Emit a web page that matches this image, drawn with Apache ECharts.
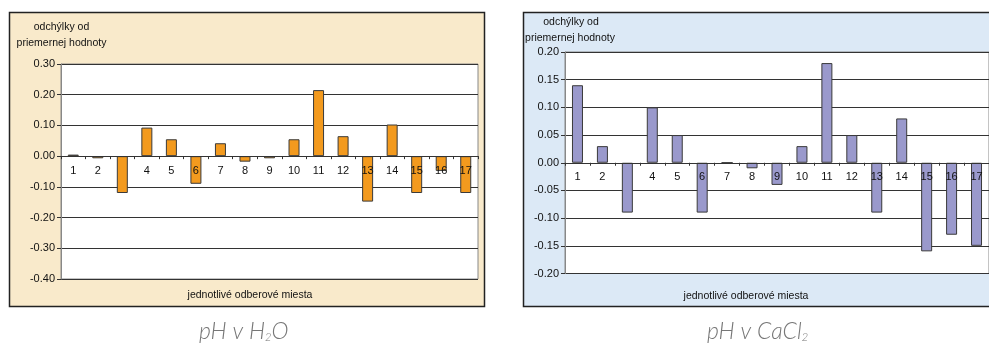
<!DOCTYPE html>
<html>
<head>
<meta charset="utf-8">
<script src="https://cdn.jsdelivr.net/npm/echarts@6/dist/echarts.min.js"></script>
<style>
html,body{margin:0;padding:0;background:#fff;}
#c{width:989px;height:347px;}
</style>
</head>
<body>
<div id="c"></div>
<script>
var categories = ['1','2','3','4','5','6','7','8','9','10','11','12','13','14','15','16','17'];
var categoryLabels = ['1','2','','4','5','6','7','8','9','10','11','12','13','14','15','16','17'];
var phH2O = [0.005,-0.007,-0.12,0.093,0.055,-0.09,0.042,-0.018,-0.007,0.055,0.215,0.065,-0.148,0.103,-0.12,-0.048,-0.12];
var phCaCl2 = [0.14,0.03,-0.09,0.10,0.05,-0.09,0,-0.01,-0.04,0.03,0.18,0.05,-0.09,0.08,-0.16,-0.13,-0.15];
var leftTicks = {min:-0.4, max:0.3, interval:0.1};
var rightTicks = {min:-0.2, max:0.2, interval:0.05};
var yTitleLine1 = 'odchýlky od';
var yTitleLine2 = 'priemernej hodnoty';
var xTitle = 'jednotlivé odberové miesta';

var chart = echarts.init(document.getElementById('c'));
var F = 'Liberation Sans, Arial, sans-serif';

function xAxisCfg(gi){
  return {
    type:'category', gridIndex:gi, data:categories, position:'bottom', offset:0,
    axisLine:{onZero:false, lineStyle:{color:'#333', width:1}},
    axisTick:{show:true, length:3, alignWithLabel:false, lineStyle:{color:'#333'}},
    axisLabel:{color:'#111', fontFamily:F, fontSize:11, margin:9,
      formatter:function(v,i){return categoryLabels[i];}},
    z:5
  };
}
function yAxisCfg(gi,t){
  return {
    type:'value', gridIndex:gi, min:t.min, max:t.max, interval:t.interval,
    axisLine:{show:true, lineStyle:{color:'#888', width:1}},
    axisTick:{show:true, length:4, lineStyle:{color:'#333'}},
    axisLabel:{color:'#111', fontFamily:F, fontSize:11, margin:6,
      formatter:function(v){return v.toFixed(2);}},
    splitLine:{show:true, lineStyle:{color:'#333', width:1}}
  };
}

function caption(cx, y, main, sub, tail){
  return {
    type:'text', left:cx, top:y, z:10,
    style:{
      text:'{a|'+main+'}{s|'+sub+'}{a|'+tail+'}',
      rich:{
        a:{fontFamily:'Lato, Open Sans, sans-serif', fontWeight:300, fontStyle:'italic', fontSize:23, fill:'#777', lineHeight:26, verticalAlign:'bottom'},
        s:{fontFamily:'Lato, Open Sans, sans-serif', fontWeight:300, fontStyle:'italic', fontSize:11, fill:'#777', lineHeight:1, verticalAlign:'bottom'}
      }
    }
  };
}
function tline(cx, y, s){
  return {type:'text', x:cx, y:y, style:{text:s, fontFamily:F, fontSize:10.5, fill:'#111', align:'center', verticalAlign:'middle'}};
}

var grids = [
  {left:61, top:64, width:417, height:215, show:true, backgroundColor:'#fff', borderColor:'#888', borderWidth:1},
  {left:565, top:52, width:424, height:221.5, show:true, backgroundColor:'#fff', borderColor:'#888', borderWidth:1}
];

var option = {
  animation:false,
  backgroundColor:'#fff',
  graphic:[
    {type:'rect', shape:{x:9.5,y:12.5,width:475,height:294}, style:{fill:'#f9eacb', stroke:'#222', lineWidth:1.5}, z:-10},
    {type:'rect', shape:{x:523.5,y:12.5,width:480,height:294}, style:{fill:'#dce9f6', stroke:'#222', lineWidth:1.5}, z:-10},
    tline(61.5, 27, yTitleLine1),
    tline(61.5, 43, yTitleLine2),
    tline(571, 22, yTitleLine1),
    tline(570, 38, yTitleLine2),
    tline(250, 295, xTitle),
    tline(746, 296, xTitle),
    caption(199, 320, 'pH v H', '2', 'O'),
    caption(707, 320, 'pH v CaCl', '2', '')
  ],
  grid:grids,
  xAxis:[xAxisCfg(0), xAxisCfg(1)],
  yAxis:[yAxisCfg(0,leftTicks), yAxisCfg(1,rightTicks)],
  series:[
    {type:'bar', xAxisIndex:0, yAxisIndex:0, data:phH2O, barWidth:11,
      itemStyle:{color:'#f39a1e', borderColor:'#3a3a3a', borderWidth:1}},
    {type:'bar', xAxisIndex:1, yAxisIndex:1, data:phCaCl2, barWidth:11,
      itemStyle:{color:'#9a99cc', borderColor:'#3a3a3a', borderWidth:1}}
  ]
};
chart.setOption(option);

// place each category axis on the zero line of its value axis
var offs = [0,1].map(function(i){
  var zeroY = chart.convertToPixel({yAxisIndex:i}, 0);
  var bottomY = chart.convertToPixel({yAxisIndex:i}, i === 0 ? leftTicks.min : rightTicks.min);
  return zeroY - bottomY;
});
chart.setOption({xAxis:[{offset:offs[0]},{offset:offs[1]}]});
</script>
</body>
</html>
